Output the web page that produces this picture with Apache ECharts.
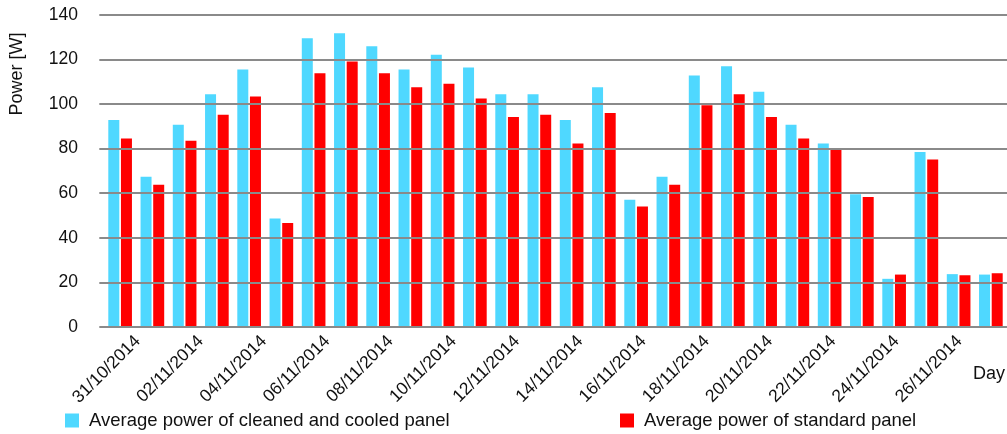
<!DOCTYPE html>
<html>
<head>
<meta charset="utf-8">
<style>
  html, body { margin: 0; padding: 0; background: #fff; }
  #chart { width: 1007px; height: 434px; }
</style>
<script src="https://cdn.jsdelivr.net/npm/echarts@6/dist/echarts.min.js"></script>
</head>
<body>
<div id="chart"></div>
<script>
// Daily dates of the measurement campaign
const categories = [
  '31/10/2014', '01/11/2014', '02/11/2014', '03/11/2014', '04/11/2014', '05/11/2014', '06/11/2014',
  '07/11/2014', '08/11/2014', '09/11/2014', '10/11/2014', '11/11/2014', '12/11/2014', '13/11/2014',
  '14/11/2014', '15/11/2014', '16/11/2014', '17/11/2014', '18/11/2014', '19/11/2014', '20/11/2014',
  '21/11/2014', '22/11/2014', '23/11/2014', '24/11/2014', '25/11/2014', '26/11/2014', '27/11/2014'
];

// Average power [W], cleaned and cooled panel
const cleanedCooled = [
  92.8, 67.3, 90.7, 104.3, 115.4, 48.6, 129.4,
  131.7, 125.9, 115.4, 122.0, 116.3, 104.3, 104.3,
  92.8, 107.5, 57.1, 67.3, 112.7, 116.9, 105.5,
  90.7, 82.3, 59.5, 21.6, 78.5, 23.7, 23.5
];

// Average power [W], standard panel
const standardPanel = [
  84.5, 63.8, 83.5, 95.2, 103.3, 46.6, 113.8,
  119.0, 113.8, 107.5, 109.1, 102.4, 94.1, 95.2,
  82.3, 95.9, 54.0, 63.8, 99.4, 104.3, 94.1,
  84.5, 79.3, 58.3, 23.5, 75.1, 23.2, 24.1
];

const yTicks = { min: 0, max: 140, interval: 20 };

const seriesNames = ['Average power of cleaned and cooled panel', 'Average power of standard panel'];
const FONT = 'Liberation Sans, Arial, sans-serif';
const TEXT = '#111111';
const GRID_LINE = '#8a8a8a';

const chart = echarts.init(document.getElementById('chart'), null, { renderer: 'canvas' });

const option = {
  animation: false,
  backgroundColor: '#ffffff',
  textStyle: { fontFamily: FONT, color: TEXT },
  grid: [
    // bars
    { left: 104, right: -2.3, top: 14.7, bottom: 107 },
    // value axis labels and horizontal gridlines
    { left: 99.3, right: 0, top: 14.7, bottom: 107 },
    // date labels
    { left: 121.8, right: -9.4, top: 14.7, bottom: 107 }
  ],
  xAxis: [
    {
      type: 'category', gridIndex: 0, data: categories,
      axisLine: { show: false }, axisTick: { show: false }, axisLabel: { show: false }
    },
    { type: 'value', gridIndex: 1, show: false },
    {
      type: 'category', gridIndex: 2, data: categories,
      axisLine: { show: false }, axisTick: { show: false },
      axisLabel: {
        interval: 1, rotate: 45, margin: 11.5,
        fontFamily: FONT, fontSize: 17.5, color: TEXT
      }
    }
  ],
  yAxis: [
    { type: 'value', gridIndex: 0, min: yTicks.min, max: yTicks.max, interval: yTicks.interval, show: false },
    {
      type: 'value', gridIndex: 1, min: yTicks.min, max: yTicks.max, interval: yTicks.interval,
      z: 5,
      axisLine: { show: false }, axisTick: { show: false },
      axisLabel: { margin: 21.3, fontFamily: FONT, fontSize: 17.5, color: TEXT },
      splitLine: { show: true, lineStyle: { color: GRID_LINE, width: 1.8 } }
    },
    { type: 'value', gridIndex: 2, show: false }
  ],
  legend: [
    {
      data: [seriesNames[0]], left: 65, top: 411, padding: 0,
      icon: 'rect', itemWidth: 14, itemHeight: 14,
      textStyle: { fontFamily: FONT, fontSize: 18.5, color: TEXT, padding: [0, 0, 0, 5] }
    },
    {
      data: [seriesNames[1]], left: 620, top: 411, padding: 0,
      icon: 'rect', itemWidth: 14, itemHeight: 14,
      textStyle: { fontFamily: FONT, fontSize: 18.5, color: TEXT, padding: [0, 0, 0, 5] }
    }
  ],
  series: [
    {
      name: seriesNames[0], type: 'bar', xAxisIndex: 0, yAxisIndex: 0,
      data: cleanedCooled, barWidth: 11, barGap: '15%',
      itemStyle: { color: '#4fd8ff' }
    },
    {
      name: seriesNames[1], type: 'bar', xAxisIndex: 0, yAxisIndex: 0,
      data: standardPanel, barWidth: 11,
      itemStyle: { color: '#ff0000' }
    }
  ],
  graphic: [
    {
      type: 'text', x: 17.5, y: 74, rotation: Math.PI / 2,
      style: {
        text: 'Power [W]', fontFamily: FONT, fontSize: 18, fill: TEXT,
        align: 'center', verticalAlign: 'middle'
      }
    },
    {
      type: 'text', x: 989, y: 374,
      style: {
        text: 'Day', fontFamily: FONT, fontSize: 18, fill: TEXT,
        align: 'center', verticalAlign: 'middle'
      }
    }
  ]
};

chart.setOption(option);
</script>
</body>
</html>
